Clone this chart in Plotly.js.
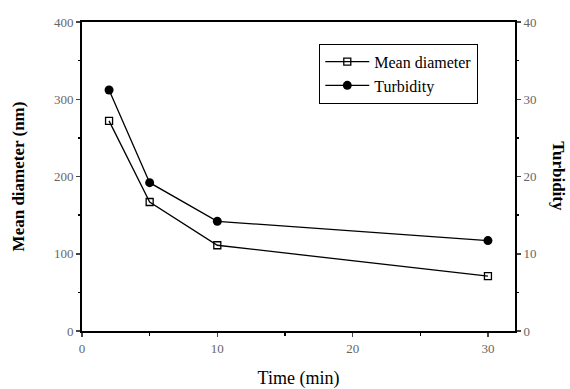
<!DOCTYPE html>
<html><head><meta charset="utf-8">
<script src="https://cdn.plot.ly/plotly-3.0.1.min.js"></script>
<style>html,body{margin:0;padding:0;background:#fff}#chart{width:570px;height:389px}</style>
</head><body><div id="chart"></div>
<script>
var time = [2, 5, 10, 30];
var meanDiameter = [272, 167, 111, 71];
var turbidity = [31.2, 19.2, 14.2, 11.7];
var xTicks = [0, 10, 20, 30];
var yLeftTicks = [0, 100, 200, 300, 400];
var yRightTicks = [0, 10, 20, 30, 40];

var serif = "Liberation Serif";
var tickFont = {family: serif, size: 13, color: "#666"};

var traces = [
  {x: time, y: meanDiameter, name: "Mean diameter", mode: "lines+markers", yaxis: "y",
   line: {color: "#000", width: 1.3},
   marker: {symbol: "square-open", size: 7, color: "#000", line: {width: 1.3, color: "#000"}}},
  {x: time, y: turbidity, name: "Turbidity", mode: "lines+markers", yaxis: "y2",
   line: {color: "#000", width: 1.3},
   marker: {symbol: "circle", size: 9, color: "#000"}}
];

var layout = {
  width: 570, height: 389,
  margin: {l: 82, r: 55, t: 22, b: 58},
  paper_bgcolor: "#fff", plot_bgcolor: "#fff",
  font: {family: serif},
  showlegend: true,
  legend: {x: 0.548, y: 0.93, xanchor: "left", yanchor: "top",
    bordercolor: "#000", borderwidth: 1, bgcolor: "#fff", itemwidth: 44,
    font: {family: serif, size: 16, color: "#000"}, tracegroupgap: 0},
  xaxis: {range: [0, 32], tickvals: xTicks, ticks: "outside", ticklen: 4, tickwidth: 1.5,
    showline: true, linecolor: "#000", linewidth: 2, mirror: true, showgrid: false, zeroline: false,
    tickfont: tickFont,
    minor: {tickvals: [5, 15, 25], ticks: "outside", ticklen: 3, tickwidth: 1.5, tickcolor: "#000"},
    title: {text: "Time (min)", font: {family: serif, size: 18, color: "#000"}, standoff: 17}},
  yaxis: {range: [0, 400], tickvals: yLeftTicks, ticks: "outside", ticklen: 4, tickwidth: 1.5,
    showline: true, linecolor: "#000", linewidth: 2, showgrid: false, zeroline: false,
    tickfont: tickFont,
    minor: {tickvals: [50, 150, 250, 350], ticks: "outside", ticklen: 2, tickwidth: 1.5, tickcolor: "#000"},
    title: {text: "<b>Mean diameter (nm)</b>", font: {family: serif, size: 17, color: "#000"}, standoff: 25}},
  yaxis2: {range: [0, 40], tickvals: yRightTicks, overlaying: "y", side: "right", ticks: "outside", ticklen: 4, tickwidth: 1.5,
    showline: true, linecolor: "#000", linewidth: 2, showgrid: false, zeroline: false,
    tickfont: tickFont,
    minor: {tickvals: [5, 15, 25, 35], ticks: "outside", ticklen: 2, tickwidth: 1.5, tickcolor: "#000"}},
  annotations: [{text: "<b>Turbidity</b>", textangle: 90, xref: "paper", yref: "paper",
    x: 1.1, y: 0.5, xanchor: "center", yanchor: "middle", showarrow: false,
    font: {family: serif, size: 17, color: "#000"}}]
};

Plotly.newPlot("chart", traces, layout, {displayModeBar: false, staticPlot: true});
</script></body></html>
